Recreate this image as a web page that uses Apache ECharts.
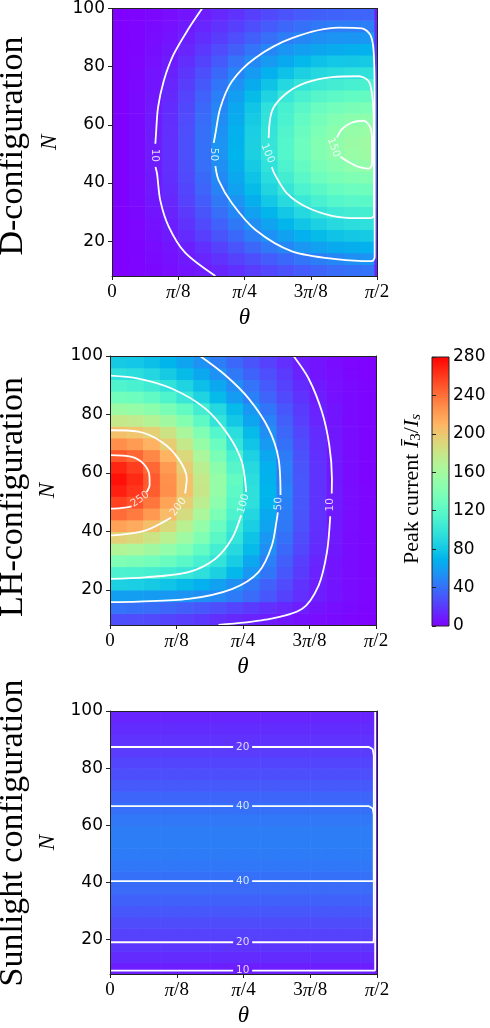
<!DOCTYPE html>
<html>
<head>
<meta charset="utf-8">
<script src="https://cdn.jsdelivr.net/npm/echarts@6/dist/echarts.min.js"></script>
<style>
  html, body { margin: 0; padding: 0; background: #fff; }
  #chart { width: 490px; height: 1028px; }
</style>
</head>
<body>
<div id="chart"></div>
<script>
// cell edges: theta in units of pi, N
const thetaEdges = [0, 0.03125, 0.0625, 0.09375, 0.125, 0.15625, 0.1875, 0.21875, 0.25,
  0.28125, 0.3125, 0.34375, 0.375, 0.40625, 0.4375, 0.46875, 0.495, 0.5];
const nEdges = [8, 12, 16, 20, 24, 28, 32, 36, 40, 44, 48, 52, 56, 60, 64, 68, 72, 76, 80, 84, 88, 92, 96, 100];

const thetaTickLabels = ['0', 'π/8', 'π/4', '3π/8', 'π/2'];
const nTicks = [20, 40, 60, 80, 100];

// peak current, rows from N=10 (bottom) up to N=98 (top)
const dValues = [
  [0.2, 1, 2.5, 4.5, 7, 9.5, 13, 17, 21, 25, 29, 33, 36, 39, 41, 42, 12],
  [0.3, 1.4, 3.5, 6, 9, 13, 18, 23, 28, 33, 38, 42.5, 46.5, 50, 53, 55, 15],
  [0.3, 1.6, 4, 7, 11, 16.5, 23, 30, 37, 44, 50, 56, 61, 65, 67, 68, 18],
  [0.4, 2, 5.2, 9.2, 15, 22, 30, 38, 46, 54, 61, 68, 74, 78, 81, 82, 21],
  [0.5, 2.2, 6, 11, 17.5, 26, 35, 44, 53, 62, 71, 79, 86, 91, 94, 95, 24],
  [0.5, 2.5, 7, 12.5, 20, 30, 40, 50, 61, 71, 81, 90, 98, 104, 107, 108, 27],
  [0.5, 3, 8, 14, 23, 33, 44, 55, 67, 80, 92, 102, 110, 116, 119, 120, 30],
  [0.5, 3, 8.5, 15, 24.5, 36, 48, 61, 74, 88, 100, 112, 120, 126, 130, 131, 33],
  [0.5, 3.2, 9, 16, 26, 38, 51, 64, 78, 93, 107, 119, 129, 136, 140, 141, 36],
  [0.5, 3.5, 9.5, 16.5, 27, 40, 53, 67, 82, 97, 112, 125, 136, 143, 148, 151, 38],
  [0.5, 3.5, 9.5, 17, 28, 41, 55, 70, 85, 100, 116, 130, 141, 148, 154, 156, 40],
  [0.5, 3.5, 9.5, 17, 28, 41, 55, 69, 85, 100, 116, 130, 141, 149, 155, 157, 40],
  [0.5, 3.5, 9.5, 16.5, 27.5, 40.5, 54, 68, 84, 99, 114, 127, 138, 146, 152, 154, 40],
  [0.5, 3.2, 9, 16, 26.5, 39, 52, 66, 82, 97, 111, 124, 134, 141, 146, 148, 38],
  [0.5, 3, 8.8, 15.5, 25.5, 37.5, 50, 64, 79, 96, 109, 119, 128, 133, 137, 138, 35],
  [0.5, 3, 8, 14.5, 24, 35, 47, 60, 74, 87, 101, 110, 117, 121, 124, 125, 32],
  [0.5, 2.7, 7.5, 13, 21.5, 31.5, 43, 54, 66, 78, 90, 99, 104, 107, 109, 110, 29],
  [0.5, 2.4, 6.5, 11.5, 19, 28, 38, 48, 58, 68, 77, 85, 90, 93, 95, 96, 26],
  [0.4, 2, 5.5, 9.5, 16, 23.5, 32, 42, 50.5, 58, 65, 72, 77, 80, 81, 82, 23],
  [0.3, 1.7, 4.6, 8, 13, 19.5, 26.5, 34, 42, 49.5, 55.5, 60, 63.5, 66, 67.5, 68, 20],
  [0.3, 1.4, 3.8, 6.8, 11, 16, 21.5, 27.5, 34, 40, 45.5, 50, 53, 55, 55.5, 56, 17],
  [0.2, 1.1, 3, 5.5, 9, 13, 17.5, 22.5, 27.5, 32.5, 37, 41, 44, 45.5, 46, 46, 14],
  [0.2, 0.9, 2.5, 4.5, 7.3, 10.5, 14, 18, 22, 26, 29.5, 32.5, 34.5, 35.5, 36, 36, 11]
];

const lhValues = [
  [28, 27.5, 26, 24, 22, 19.5, 17, 14.5, 12, 10, 8, 6, 4.5, 3, 2, 1, 0.5],
  [42, 41, 39.5, 37, 34, 31, 27.5, 24, 20.5, 17, 13.5, 10.2, 7.5, 5, 3, 1.5, 0.5],
  [60, 59.5, 58.5, 57, 55, 53, 50.3, 45, 38.5, 31, 23.5, 16.5, 10.5, 7, 4, 2, 0.5],
  [85, 84, 82, 78.5, 74, 68, 61, 53, 44, 35, 26.5, 18, 10.5, 7, 4, 2, 0.5],
  [112, 111, 108.5, 105, 101, 95, 85, 72, 56, 43, 31, 20.5, 12, 7, 4, 2, 0.5],
  [139, 137, 133, 127, 119, 109, 98, 83, 64, 47, 34, 22, 13, 7.5, 4, 2, 0.5],
  [167, 164, 158, 150, 139, 124, 108, 91, 73, 53, 38, 25, 15, 8, 4, 2, 0.5],
  [194, 190, 182, 171, 157, 140, 120, 99, 78, 57, 41, 27, 16, 8.5, 4, 2, 0.5],
  [219, 214, 204, 190, 171, 151, 128, 105, 84, 62, 44, 29, 17, 9, 4.5, 2, 0.5],
  [241, 235, 223, 206, 187, 164, 138, 112, 89, 65, 45, 30, 17.5, 9, 4.5, 2, 0.5],
  [257, 250, 237, 218, 196, 173, 147, 118, 95, 69, 47, 31, 18, 9.5, 4.5, 2, 0.5],
  [269, 261, 247, 227, 203, 179, 152, 121, 95, 70, 48, 31, 18, 9.5, 4.5, 2, 0.5],
  [274, 265, 248, 226, 203, 178, 152, 125, 94, 69, 46, 31, 18, 9, 4, 1.5, 0.5],
  [267, 258, 243, 222, 197, 172, 146, 117, 91, 68, 47, 30, 17.5, 9, 4, 1.5, 0.5],
  [249, 243, 230, 210, 190, 164, 137, 110, 86, 64, 45, 29, 17, 9, 4, 1.5, 0.5],
  [227, 221, 211, 197, 177, 153, 128, 100, 79, 58, 41, 27, 16, 8.5, 4, 1.5, 0.5],
  [204, 201, 195, 182, 163, 140, 116, 94, 73, 53, 37, 25, 15, 8, 4, 1.5, 0.5],
  [178, 175, 168, 158, 142, 122, 99, 81, 63, 48, 34, 22, 13, 7.5, 3.5, 1.5, 0.5],
  [155, 152, 146, 137, 124, 107, 90, 73, 57, 43, 31, 20.5, 12, 7, 3.5, 1.5, 0.5],
  [132, 129, 123, 113, 101, 87, 73, 59, 47, 36, 26, 17.5, 10.5, 6, 3, 1.5, 0.5],
  [113, 110, 105, 97, 87, 76, 64, 52, 42, 32, 23, 15.5, 9, 5.5, 3, 1.5, 0.5],
  [96, 94, 89, 82, 74, 64, 54, 44, 35.5, 27.5, 20, 12, 7.5, 5, 2.5, 1.2, 0.5],
  [82, 80, 76, 70, 62.5, 54, 46, 37.5, 30, 23, 16.5, 10, 7, 4, 2, 1, 0.5]
];

const sunValues = [
  [10.5, 10.5, 10.5, 10.5, 10.5, 10.5, 10.5, 10.5, 10.5, 10.5, 10.5, 10.5, 10.5, 10.5, 10.5, 10.5, 5],
  [15, 15, 15, 15, 15, 15, 15, 15, 15, 15, 15, 15, 15, 15, 15, 15, 6],
  [19, 19, 19, 19, 19, 19, 19, 19, 19, 19, 19, 19, 19, 19, 19, 19, 7],
  [23, 23, 23, 23, 23, 23, 23, 23, 23, 23, 23, 23, 23, 23, 23, 23, 8],
  [27, 27, 27, 27, 27, 27, 27, 27, 27, 27, 27, 27, 27, 27, 27, 27, 9],
  [31, 31, 31, 31, 31, 31, 31, 31, 31, 31, 31, 31, 31, 31, 31, 31, 10],
  [35, 35, 35, 35, 35, 35, 35, 35, 35, 35, 35, 35, 35, 35, 35, 35, 11],
  [38.5, 38.5, 38.5, 38.5, 38.5, 38.5, 38.5, 38.5, 38.5, 38.5, 38.5, 38.5, 38.5, 38.5, 38.5, 38.5, 12],
  [41, 41, 41, 41, 41, 41, 41, 41, 41, 41, 41, 41, 41, 41, 41, 41, 12],
  [43.5, 43.5, 43.5, 43.5, 43.5, 43.5, 43.5, 43.5, 43.5, 43.5, 43.5, 43.5, 43.5, 43.5, 43.5, 43.5, 13],
  [45, 45, 45, 45, 45, 45, 45, 45, 45, 45, 45, 45, 45, 45, 45, 45, 13],
  [46, 46, 46, 46, 46, 46, 46, 46, 46, 46, 46, 46, 46, 46, 46, 46, 13],
  [45.5, 45.5, 45.5, 45.5, 45.5, 45.5, 45.5, 45.5, 45.5, 45.5, 45.5, 45.5, 45.5, 45.5, 45.5, 45.5, 13],
  [43.5, 43.5, 43.5, 43.5, 43.5, 43.5, 43.5, 43.5, 43.5, 43.5, 43.5, 43.5, 43.5, 43.5, 43.5, 43.5, 13],
  [40.5, 40.5, 40.5, 40.5, 40.5, 40.5, 40.5, 40.5, 40.5, 40.5, 40.5, 40.5, 40.5, 40.5, 40.5, 40.5, 12],
  [36.5, 36.5, 36.5, 36.5, 36.5, 36.5, 36.5, 36.5, 36.5, 36.5, 36.5, 36.5, 36.5, 36.5, 36.5, 36.5, 11],
  [32, 32, 32, 32, 32, 32, 32, 32, 32, 32, 32, 32, 32, 32, 32, 32, 10],
  [28, 28, 28, 28, 28, 28, 28, 28, 28, 28, 28, 28, 28, 28, 28, 28, 9],
  [24.5, 24.5, 24.5, 24.5, 24.5, 24.5, 24.5, 24.5, 24.5, 24.5, 24.5, 24.5, 24.5, 24.5, 24.5, 24.5, 8],
  [21, 21, 21, 21, 21, 21, 21, 21, 21, 21, 21, 21, 21, 21, 21, 21, 8],
  [18, 18, 18, 18, 18, 18, 18, 18, 18, 18, 18, 18, 18, 18, 18, 18, 7],
  [15.5, 15.5, 15.5, 15.5, 15.5, 15.5, 15.5, 15.5, 15.5, 15.5, 15.5, 15.5, 15.5, 15.5, 15.5, 15.5, 6],
  [13, 13, 13, 13, 13, 13, 13, 13, 13, 13, 13, 13, 13, 13, 13, 13, 5]
];

// contour lines [theta/pi, N], broken where the inline label sits
const dSegs = [
  [[0.170, 100], [0.145, 93.2], [0.116, 84.1], [0.0975, 75], [0.0868, 65.9], [0.083, 56.8], [0.0818, 53.5]],
  [[0.082, 45.5], [0.085, 43.2], [0.091, 34.1], [0.107, 25], [0.138, 16], [0.195, 8]],
  [[0.192, 53.8], [0.195, 56.8], [0.2044, 65.9], [0.2264, 75], [0.2704, 83], [0.3396, 89.8], [0.4277, 93.4],
   [0.4717, 93.2], [0.4874, 90.9], [0.4937, 85.2], [0.4956, 68.2], [0.4956, 30], [0.4956, 14.5], [0.49, 13.1],
   [0.4277, 13.7], [0.3396, 16.5], [0.2704, 23.9], [0.2264, 33], [0.2013, 40.9], [0.195, 45.8]],
  [[0.2956, 55.5], [0.3019, 64.8], [0.327, 70.5], [0.3648, 74.4], [0.4151, 76.4], [0.4654, 76.7], [0.4843, 75],
   [0.4906, 70.5], [0.4937, 62.5], [0.4943, 45.5], [0.4943, 29], [0.488, 27.9], [0.4654, 27.9], [0.4151, 28.7],
   [0.3648, 31.9], [0.3302, 36.4], [0.3082, 42.6], [0.3015, 45.5]],
  [[0.4245, 55.7], [0.434, 58.5], [0.4528, 60.8], [0.4748, 61.4], [0.4874, 59.1], [0.4906, 54.6], [0.4906, 46.6],
   [0.4843, 44.9], [0.4654, 45.5], [0.4465, 47.2], [0.4308, 49.1]]
];
const dLabels = [[0.0815, 49.5, '10', -90], [0.1925, 49.8, '50', -90], [0.2937, 50.2, '100', -68], [0.418, 52.2, '150', -70]];

const lhSegs = [
  [[0, 66.1], [0.0408, 65.5], [0.0627, 63.2], [0.074, 59.2], [0.0745, 56], [0.069, 53.5]],
  [[0.0408, 48.6], [0.02, 48], [0, 47.8]],
  [[0, 74.6], [0.0533, 74.1], [0.0972, 70.6], [0.1286, 64.9], [0.1443, 58.1], [0.1412, 53]],
  [[0.115, 44.8], [0.0659, 40.3], [0, 38.6]],
  [[0, 93.3], [0.0533, 92.3], [0.116, 88.9], [0.1788, 82.1], [0.2227, 72.9], [0.2478, 63.8], [0.256, 53.5]],
  [[0.2465, 45.5], [0.229, 37.5], [0.1976, 30.6], [0.1474, 26.1], [0.0659, 24.3], [0, 23.8]],
  [[0.1694, 100], [0.2164, 93.5], [0.2604, 85.5], [0.298, 75.2], [0.3168, 64.9], [0.3205, 52.5]],
  [[0.3155, 46.5], [0.3137, 44.3], [0.3043, 35.2], [0.2792, 26.1], [0.229, 20.3], [0.1474, 16.9], [0.0533, 16], [0, 15.8]],
  [[0.345, 100], [0.3733, 92.3], [0.3984, 80.9], [0.4122, 69.5], [0.4172, 58.1], [0.4168, 53]],
  [[0.414, 45.2], [0.4078, 32.9], [0.3921, 21.5], [0.3607, 13.5], [0.2917, 9.8], [0.2039, 8]]
];
const lhLabels = [[0.0565, 51, '250', 35], [0.1286, 48.4, '200', 53], [0.251, 49.5, '100', 75],
  [0.3168, 49.5, '50', 88], [0.414, 49.1, '10', 90]];

const sunSegs = [
  [[0, 87.4], [0.2306, 87.4]],
  [[0.2662, 87.4], [0.485, 87.4], [0.492, 86.6], [0.494, 84.5], [0.494, 21], [0.4935, 19.1], [0.2662, 19.1]],
  [[0.2306, 19.1], [0, 19.1]],
  [[0, 66.7], [0.2306, 66.7]],
  [[0.2662, 66.7], [0.485, 66.7], [0.492, 65.9], [0.494, 63.8], [0.494, 40.5], [0.2662, 40.5]],
  [[0.2306, 40.5], [0, 40.5]],
  [[0, 9.2], [0.2306, 9.2]],
  [[0.2662, 9.2], [0.4965, 9.2], [0.4965, 100]]
];
const sunLabels = [[0.2484, 87.4, '20', 0], [0.2484, 66.7, '40', 0], [0.2484, 40.5, '40', 0],
  [0.2484, 19.1, '20', 0], [0.2484, 9.2, '10', 0]];

// matplotlib "rainbow"
const rainbow = ['#8000ff', '#6628fe', '#4d4ffc', '#3374f8', '#1a96f3', '#00b4ec', '#1acee3', '#33e3da',
  '#4df3ce', '#66fcc2', '#80ffb4', '#99fca6', '#b3f396', '#cce385', '#e6ce74', '#ffb462', '#ff964f',
  '#ff743b', '#ff4f28', '#ff2814', '#ff0000'];

const panels = [
  { title: 'D-configuration', values: dValues, segs: dSegs, labels: dLabels, smooth: 0.3, titleY: 146,
    grid: { left: 112, top: 7, width: 265, height: 269 } },
  { title: 'LH-configuration', values: lhValues, segs: lhSegs, labels: lhLabels, smooth: 0.3, titleY: 497,
    grid: { left: 110, top: 356, width: 266, height: 269 } },
  { title: 'Sunlight configuration', values: sunValues, segs: sunSegs, labels: sunLabels, smooth: false, titleY: 833,
    grid: { left: 110, top: 711, width: 267, height: 270 } }
];
const cbar = { left: 432, top: 357, width: 17, height: 269 };

const chart = echarts.init(document.getElementById('chart'));
const axisColor = '#222';
const serif = 'Liberation Serif';

function cells(values) {
  const out = [];
  values.forEach((row, j) => row.forEach((v, i) => {
    out.push([(thetaEdges[i] + thetaEdges[i + 1]) / 2, (nEdges[j] + nEdges[j + 1]) / 2, v, i, j]);
  }));
  return out;
}

function renderCell(params, api) {
  const i = api.value(3), j = api.value(4);
  const a = api.coord([thetaEdges[i], nEdges[j]]);
  const b = api.coord([thetaEdges[i + 1], nEdges[j + 1]]);
  return {
    type: 'rect',
    shape: { x: a[0], y: b[1], width: b[0] - a[0] + 0.6, height: a[1] - b[1] + 0.6 },
    style: { fill: api.visual('color') }
  };
}

const grids = [], xAxes = [], yAxes = [], series = [], graphics = [], heatIdx = [];

panels.forEach((p, k) => {
  grids.push(p.grid);
  xAxes.push({
    gridIndex: k, type: 'value', min: 0, max: 0.5, interval: 0.125, z: 10,
    axisLine: { show: true, onZero: false, lineStyle: { color: axisColor } },
    axisTick: { length: 4, lineStyle: { color: axisColor } },
    splitLine: { show: false },
    axisLabel: {
      margin: 7, color: '#000', fontFamily: serif, fontSize: 19,
      formatter: v => thetaTickLabels[Math.round(v * 8)].replace('π', '{i|π}'),
      rich: { i: { fontFamily: serif, fontStyle: 'italic', fontSize: 19, color: '#000' } }
    },
    name: 'θ', nameLocation: 'middle', nameGap: 30,
    nameTextStyle: { fontFamily: serif, fontStyle: 'italic', fontSize: 23, color: '#000' }
  });
  xAxes.push({
    gridIndex: k, type: 'value', position: 'top', min: 0, max: 0.5, z: 10,
    axisLine: { show: true, onZero: false, lineStyle: { color: axisColor } },
    axisTick: { show: false }, axisLabel: { show: false }, splitLine: { show: false }
  });
  yAxes.push({
    gridIndex: k, type: 'value', min: 8, max: 100, z: 10,
    axisLine: { show: true, onZero: false, lineStyle: { color: axisColor } },
    axisTick: { length: 4, customValues: nTicks, lineStyle: { color: axisColor } },
    splitLine: { show: false },
    axisLabel: { customValues: nTicks, margin: 7, color: '#000', fontFamily: 'DejaVu Sans', fontSize: 17 },
    name: 'N', nameLocation: 'middle', nameGap: 38,
    nameTextStyle: { fontFamily: serif, fontStyle: 'italic', fontSize: 23, color: '#000' }
  });
  yAxes.push({
    gridIndex: k, type: 'value', position: 'right', min: 8, max: 100, z: 10,
    axisLine: { show: true, onZero: false, lineStyle: { color: axisColor } },
    axisTick: { show: false }, axisLabel: { show: false }, splitLine: { show: false }
  });

  heatIdx.push(series.length);
  series.push({
    type: 'custom', xAxisIndex: 2 * k, yAxisIndex: 2 * k, clip: true, silent: true,
    encode: { x: 0, y: 1 }, data: cells(p.values), renderItem: renderCell, z: 1
  });
  p.segs.forEach(seg => series.push({
    type: 'line', xAxisIndex: 2 * k, yAxisIndex: 2 * k, data: seg, symbol: 'none', smooth: p.smooth,
    lineStyle: { color: '#fff', width: 1.8 }, silent: true, z: 3
  }));
  series.push({
    type: 'scatter', xAxisIndex: 2 * k, yAxisIndex: 2 * k, symbolSize: 1, silent: true, z: 4,
    itemStyle: { color: 'rgba(0,0,0,0)' },
    label: { show: true, position: 'inside', color: '#fff', fontFamily: 'DejaVu Sans', fontSize: 10.5 },
    data: p.labels.map(l => ({ value: [l[0], l[1]], label: { formatter: l[2], rotate: l[3] } }))
  });

  graphics.push({
    type: 'text', x: 13, y: p.titleY, rotation: Math.PI / 2,
    style: { text: p.title, font: '34px "Liberation Serif"', fill: '#000', align: 'center', verticalAlign: 'middle' }
  });
});

// colour bar axis
grids.push(cbar);
xAxes.push({ gridIndex: 3, type: 'value', show: false, min: 0, max: 1 });
yAxes.push({
  gridIndex: 3, type: 'value', position: 'right', min: 0, max: 280, interval: 40,
  axisLine: { show: false }, splitLine: { show: false },
  axisTick: { show: true, length: 4, lineStyle: { color: axisColor } },
  axisLabel: { margin: 4, color: '#000', fontFamily: 'DejaVu Sans', fontSize: 17 }
});
graphics.push({
  type: 'rect', z: 0,
  shape: { x: cbar.left, y: cbar.top, width: cbar.width, height: cbar.height },
  style: {
    fill: { type: 'linear', x: 0, y: 1, x2: 0, y2: 0,
      colorStops: rainbow.map((c, i) => ({ offset: i / (rainbow.length - 1), color: c })) },
    stroke: axisColor, lineWidth: 1
  }
});
graphics.push({
  type: 'text', x: 412, y: 489, rotation: Math.PI / 2,
  style: {
    text: '{r|Peak current }{i|Ī}{b|3}{r|/}{i|I}{s|s}',
    rich: {
      r: { fontFamily: serif, fontSize: 22, fill: '#000' },
      i: { fontFamily: serif, fontStyle: 'italic', fontSize: 22, fill: '#000' },
      b: { fontFamily: serif, fontSize: 15, fill: '#000', padding: [9, 0, 0, 0] },
      s: { fontFamily: serif, fontStyle: 'italic', fontSize: 15, fill: '#000', padding: [9, 0, 0, 0] }
    },
    align: 'center', verticalAlign: 'middle'
  }
});

chart.setOption({
  animation: false,
  grid: grids,
  xAxis: xAxes,
  yAxis: yAxes,
  visualMap: {
    type: 'continuous', show: false, min: 0, max: 280, dimension: 2, seriesIndex: heatIdx,
    inRange: { color: rainbow }
  },
  graphic: graphics,
  series: series
});
</script>
</body>
</html>
